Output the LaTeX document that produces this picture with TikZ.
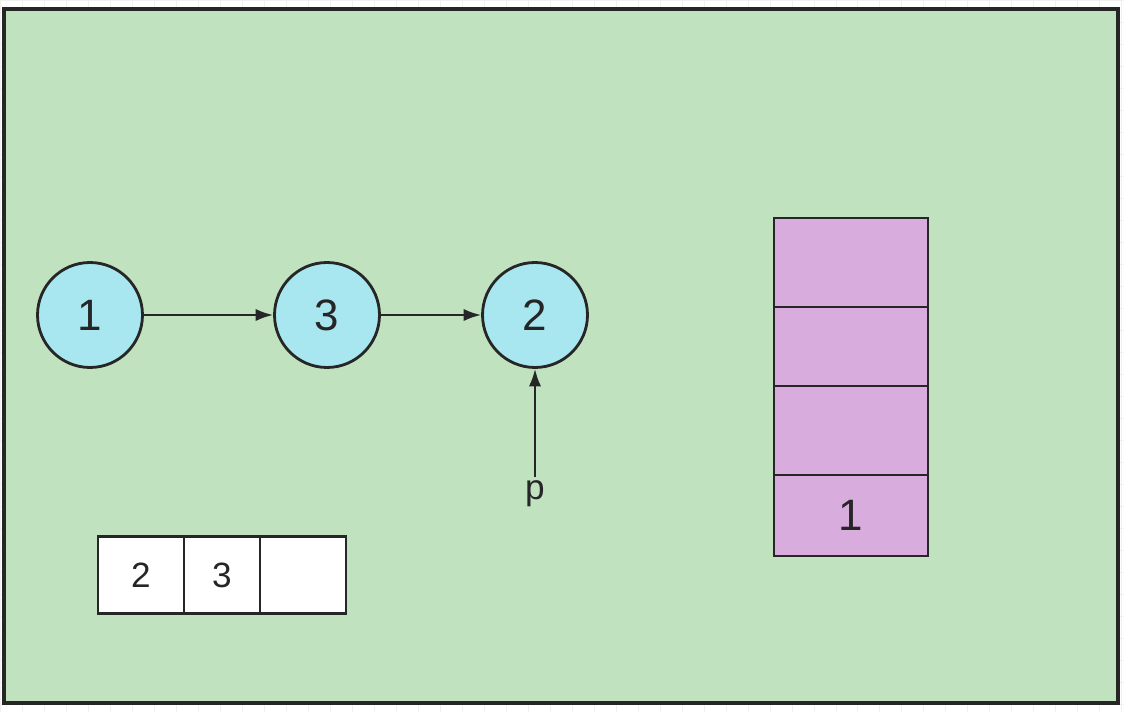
\documentclass[tikz,border=0pt]{standalone}
\usepackage{fontspec}
\setmainfont{Liberation Sans}
\usetikzlibrary{arrows.meta}

\definecolor{bggreen}{HTML}{C0E2BF}
\definecolor{nodecyan}{HTML}{A8E7EF}
\definecolor{stackpink}{HTML}{D8ADDD}
\definecolor{linegray}{HTML}{262626}

\begin{document}
\begin{tikzpicture}[
        x=0.02cm, y=-0.02cm,
        >={Latex[length=10pt,width=7pt]},
        every node/.style={font=\fontsize{25}{30}\selectfont, text=linegray},
        listnode/.style={circle, draw=linegray, line width=1.6pt, fill=nodecyan,
            minimum size=2.1cm, inner sep=0pt},
        cell/.style={draw=linegray, line width=1.6pt, fill=white,
            minimum height=1.54cm, inner sep=0pt, font=\fontsize{20}{24}\selectfont},
        stackcell/.style={draw=linegray, line width=1.6pt, fill=stackpink,
            minimum width=3.08cm, inner sep=0pt},
        link/.style={->, line width=1.2pt, linegray}
    ]

        \useasboundingbox (0,0) rectangle (1124,712);

        % Sfondo
        \draw[black!6, step=0.44cm] (0,0) grid (1124,712);
        \draw[line width=1.8pt, draw=linegray, fill=bggreen] (4,9) rectangle (1118,703);

        % Lista
        \node[listnode] (n1) at (90,315) {1};
        \node[listnode] (n3) at (327,315) {3};
        \node[listnode] (n2) at (535,315) {2};

        \draw[link] (n1) -- (n3);
        \draw[link] (n3) -- (n2);

        % Puntatore
        \node[font=\fontsize{20}{24}\selectfont, anchor=north, inner sep=2pt]
            (p) at (535,477) {p};
        \draw[link] (p) -- (n2);

        % Array
        \node[cell, minimum width=1.72cm] (a1) at (141,575) {2};
        \node[cell, minimum width=1.52cm] (a2) at (222,575) {3};
        \node[cell, minimum width=1.72cm] (a3) at (303,575) {};

        % Pila
        \node[stackcell, minimum height=1.78cm] (s4) at (851,262.5) {};
        \node[stackcell, minimum height=1.58cm] (s3) at (851,346.5) {};
        \node[stackcell, minimum height=1.78cm] (s2) at (851,430.5) {};
        \node[stackcell, minimum height=1.62cm] (s1) at (851,515.5) {1};

    \end{tikzpicture}
\end{document}
